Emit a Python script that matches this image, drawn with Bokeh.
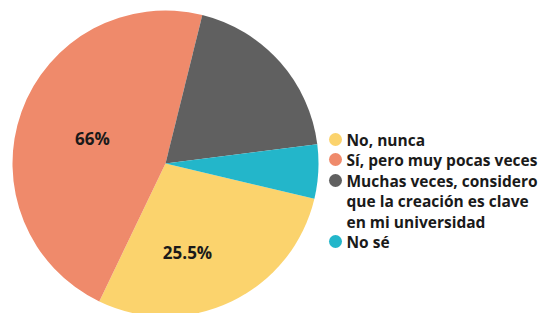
import math
from bokeh.plotting import figure
from bokeh.models import Range1d, ColumnDataSource
from bokeh.core.properties import value
from bokeh.embed import file_html
from bokeh.resources import INLINE

# Data
categories = ["No, nunca", "Sí, pero muy pocas veces",
              "Muchas veces, considero\nque la creación es clave\nen mi universidad", "No sé"]
shares = [28.4, 46.7, 19.1, 5.7]
colors = ["#FBD36D", "#EF8A6B", "#606060", "#23B6CA"]
slice_labels = ["25.5%", "66%", "", ""]

W, H = 545, 313
p = figure(width=W, height=H, output_backend="svg", toolbar_location=None,
           x_range=Range1d(0, W), y_range=Range1d(0, H), min_border=0)
p.axis.visible = False
p.grid.visible = False
p.outline_line_color = None
p.background_fill_color = "white"

# picture pixel -> data mapping
def px(x):
    return x
def py(y):
    return H - y

cx, cy, r = px(165), py(163), 153
start_deg = -13.3  # yellow begins here, slices run clockwise
total = sum(shares)
starts, ends = [], []
a = math.radians(start_deg)
for s in shares:
    span = s / total * 2 * math.pi
    starts.append(a - span)
    ends.append(a)
    a -= span

src = ColumnDataSource(dict(start=starts, end=ends, color=colors))
p.wedge(x=cx, y=cy, radius=r, start_angle="start", end_angle="end",
        fill_color="color", line_color=None, source=src)

# slice labels
lab_pos = [(187, 252), (92, 138)]
for i, (lx, ly) in enumerate(lab_pos):
    p.text(x=[px(lx)], y=[py(ly)], text=[slice_labels[i]],
           text_font=value("Open Sans"), text_font_style="bold",
           text_font_size="17px", text_color="#1a1a1a",
           text_align="center", text_baseline="middle")

# legend
leg_x_dot = 335
leg_x_text = 346
row_y = [139, 159, 180, 241]
line_h = 20.5
for i, cat in enumerate(categories):
    p.scatter(x=[px(leg_x_dot)], y=[py(row_y[i])], size=13, color=colors[i],
              line_color=None)
    for j, line in enumerate(cat.split("\n")):
        p.text(x=[px(leg_x_text)], y=[py(row_y[i] + j * line_h)], text=[line],
               text_font=value("Open Sans"), text_font_style="bold",
               text_font_size="15.5px", text_color="#1a1a1a",
               text_align="left", text_baseline="middle")

open("out.html", "w").write(file_html(p, INLINE))
